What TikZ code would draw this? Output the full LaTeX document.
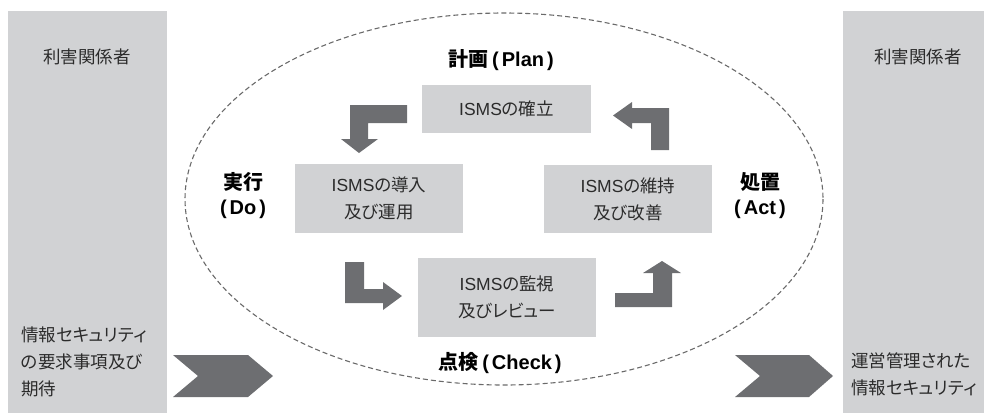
\documentclass[tikz,border=0pt]{standalone}
\usepackage{fontspec}
\setmainfont[RawFeature=+palt]{Noto Sans CJK JP}
\newfontfamily\lat{Liberation Sans}
\definecolor{panelgray}{HTML}{D1D2D4}
\definecolor{arrowgray}{HTML}{6D6E71}
\definecolor{dashgray}{HTML}{6A6A6A}
\definecolor{textgray}{HTML}{2B2B2B}
\begin{document}
\begin{tikzpicture}[x=1pt,y=-1pt,
  procbox/.style={fill=panelgray, draw=none, inner sep=0pt, align=center,
    font=\fontsize{17.5}{27}\selectfont, text=textgray},
  plain/.style={inner sep=0pt, font=\fontsize{17.5}{27}\selectfont, text=textgray},
  phase/.style={inner sep=0pt, align=center, font=\fontsize{20}{25}\selectfont\bfseries},
  blockarrow/.style={fill=arrowgray, draw=none}]
\useasboundingbox (0,0) rectangle (984,413);
% side panels
\fill[panelgray] (8,11) rectangle (167,413);
\fill[panelgray] (843,11) rectangle (984,413);
% dashed ellipse
\draw[dashgray, line width=1.1pt, dash pattern=on 5pt off 3pt] (504,199) ellipse [x radius=319, y radius=186];
% process boxes
\node[procbox, minimum width=169pt, minimum height=48pt] (plan) at (506.5,109) {{\lat ISMS}の確立};
\node[procbox, minimum width=168pt, minimum height=69pt] (do) at (379,198.5) {{\lat ISMS}の導入\\及び運用};
\node[procbox, minimum width=168pt, minimum height=68pt] (act) at (628,199) {{\lat ISMS}の維持\\及び改善};
\node[procbox, minimum width=178pt, minimum height=79pt] (check) at (507,297.5) {{\lat ISMS}の監視\\及びレビュー};
% phase labels
\node[phase] (planlbl) at (501,60) {計画{\lat\hspace{4pt}(\hspace{3pt}Plan\hspace{3pt})}};
\node[phase] (dolbl) at (243,195.5) {実行\\{\lat(\hspace{3pt}Do\hspace{3pt})}};
\node[phase] (actlbl) at (760,195.5) {処置\\{\lat(\hspace{3pt}Act\hspace{3pt})}};
\node[phase] (checklbl) at (500,363) {点検{\lat\hspace{4pt}(\hspace{3pt}Check\hspace{3pt})}};
% panel texts
\node[plain] (lsh) at (87,57) {利害関係者};
\node[plain] (rsh) at (918,57) {利害関係者};
\node[plain, anchor=west, align=left] (lreq) at (21,362) {情報セキュリティ\\の要求事項及び\\期待};
\node[plain, anchor=west, align=left] (rout) at (851,374) {運営管理された\\情報セキュリティ};
% block arrows of the cycle
\fill[blockarrow] (350,105) -- (407,105) -- (407,123) -- (368,123) -- (368,139) -- (378,139)
  -- (359,153) -- (341,139) -- (350,139) -- cycle;
\fill[blockarrow] (669,150) -- (669,108) -- (632,108) -- (632,102) -- (613,115.5) -- (632,129)
  -- (632,123) -- (651,123) -- (651,150) -- cycle;
\fill[blockarrow] (345,262) -- (364,262) -- (364,289) -- (383,289) -- (383,282) -- (402,296)
  -- (383,310) -- (383,303) -- (345,303) -- cycle;
\fill[blockarrow] (615,293) -- (653,293) -- (653,273) -- (643,273) -- (662,261) -- (681,273)
  -- (672,273) -- (672,307) -- (615,307) -- cycle;
% chevrons
\fill[blockarrow] (173,355) -- (248,355) -- (273,376) -- (248,397) -- (173,397) -- (198,376) -- cycle;
\fill[blockarrow] (735,355) -- (809,355) -- (833,376) -- (809,397) -- (735,397) -- (760,376) -- cycle;
\end{tikzpicture}
\end{document}
